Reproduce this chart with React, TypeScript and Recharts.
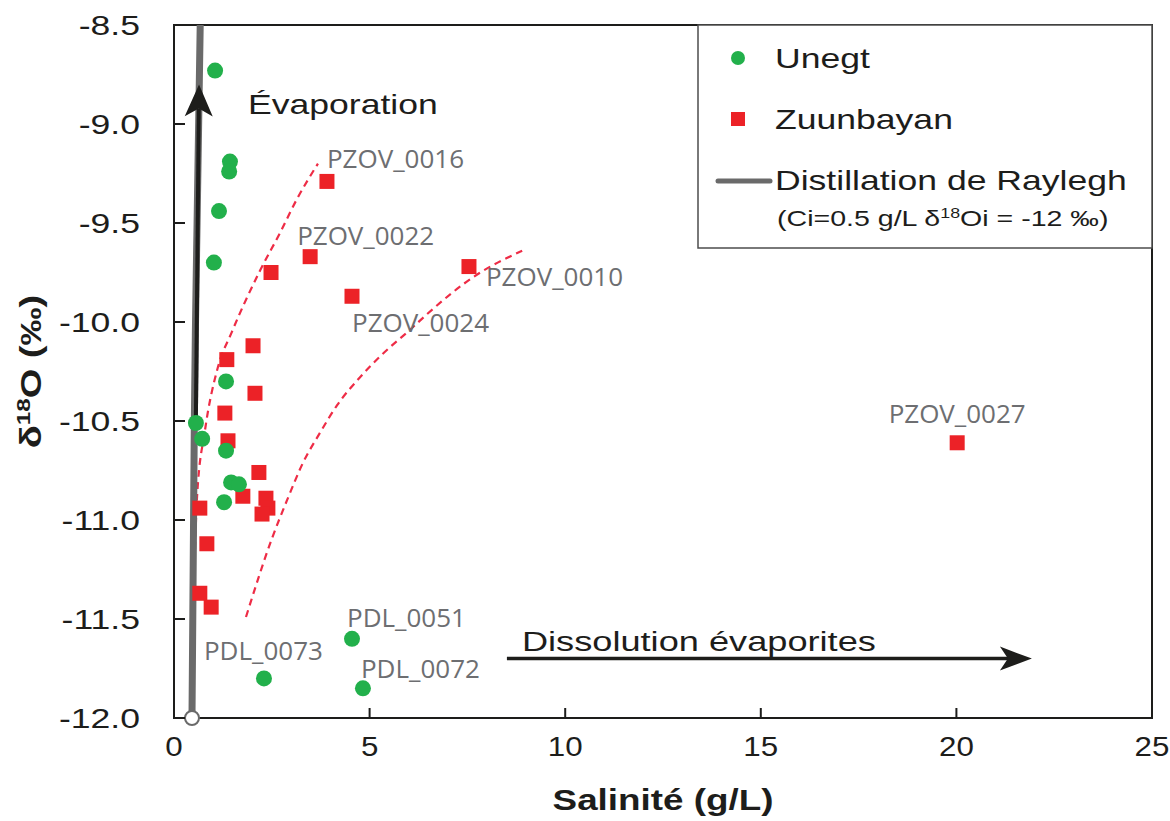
import { ComposedChart, Scatter, Line, XAxis, YAxis, ReferenceLine, ReferenceArea } from 'recharts';

// Unegt (green circles)
const unegtSal = [1.05, 1.43, 1.41, 1.15, 1.02, 1.33, 0.56, 0.72, 1.33, 1.46, 1.66, 1.28, 2.3, 4.55, 4.83];
const unegtD18O = [-8.73, -9.19, -9.24, -9.44, -9.7, -10.3, -10.51, -10.59, -10.65, -10.81, -10.82, -10.91, -11.8, -11.6, -11.85];
const unegtIds = ['', '', '', '', '', '', '', '', '', '', '', '', 'PDL_0073', 'PDL_0051', 'PDL_0072'];

// Zuunbayan (red squares)
const zuunSal = [3.91, 3.48, 7.54, 4.55, 2.48, 2.02, 1.35, 2.07, 1.3, 1.38, 2.17, 1.76, 2.35, 2.4, 2.25, 0.66, 0.84, 0.66, 0.95, 20.02];
const zuunD18O = [-9.29, -9.67, -9.72, -9.87, -9.75, -10.12, -10.19, -10.36, -10.46, -10.6, -10.76, -10.88, -10.89, -10.94, -10.97, -10.94, -11.12, -11.37, -11.44, -10.61];
const zuunIds = ['PZOV_0016', 'PZOV_0022', 'PZOV_0010', 'PZOV_0024', '', '', '', '', '', '', '', '', '', '', '', '', '', '', '', 'PZOV_0027'];

// Rayleigh distillation (Ci = 0.5 g/L, d18Oi = -12)
const raySal = [0.46, 0.48, 0.5, 0.52, 0.55, 0.59, 0.63, 0.67];
const rayD18O = [-12, -11.5, -11, -10.5, -10, -9.5, -9, -8.5];

// dashed mixing envelopes
const curveASal = [0.49, 0.59, 0.79, 1.12, 1.48, 2.2, 2.71, 3.14, 3.68];
const curveAD18O = [-11.51, -10.88, -10.55, -10.23, -10.05, -9.74, -9.55, -9.38, -9.2];
const curveBSal = [1.84, 2.51, 2.89, 3.3, 3.73, 4.17, 4.75, 5.34, 6.03, 6.47, 7.75, 8.9];
const curveBD18O = [-11.49, -11.09, -10.9, -10.71, -10.56, -10.42, -10.28, -10.16, -10.04, -9.96, -9.76, -9.64];

// annotation arrows (data coords)
const evapFrom = [0.56, -10.48];
const evapTo = [0.64, -8.8];
const dissFrom = [8.51, -11.7];
const dissTo = [21.93, -11.7];

const xTicks = [0, 5, 10, 15, 20, 25];
const yTicks = [-12, -11.5, -11, -10.5, -10, -9.5, -9, -8.5];

const unegt = unegtSal.map((x, i) => ({ x, y: unegtD18O[i], id: unegtIds[i] }));
const zuun = zuunSal.map((x, i) => ({ x, y: zuunD18O[i], id: zuunIds[i] }));
const rayleigh = raySal.map((x, i) => ({ x, y: rayD18O[i] }));
const rayStart = [{ x: raySal[0], y: rayD18O[0] }];
const curveA = curveASal.map((x, i) => ({ x, y: curveAD18O[i] }));
const curveB = curveBSal.map((x, i) => ({ x, y: curveBD18O[i] }));

const GREEN = '#22b04b';
const RED = '#ec2227';
const GREY = '#6a6a6a';
const INK = '#1d1d1b';
const DASH = '#ee2c46';
const ARIAL = '"Liberation Sans", Arial, sans-serif';
const STRETCH = 1.27;

// label placement relative to the point (dx, dy, anchor)
const LABEL_POS: Record<string, [number, number, 'start' | 'middle']> = {
  PZOV_0016: [0, -23, 'start'],
  PZOV_0022: [-13, -21, 'start'],
  PZOV_0010: [17, 10, 'start'],
  PZOV_0024: [0, 26, 'start'],
  PZOV_0027: [0, -29, 'middle'],
  PDL_0051: [-5, -21, 'start'],
  PDL_0073: [-60, -28, 'start'],
  PDL_0072: [-2, -20, 'start'],
};

const pointLabel = (id: string, cx: number, cy: number) => {
  const pos = LABEL_POS[id];
  if (!id || !pos) return null;
  return (
    <text x={cx + pos[0]} y={cy + pos[1]} dy="0.36em" textAnchor={pos[2]} fontSize={26}
      fontFamily='"Open Sans", "Noto Sans", sans-serif' fill="#6d6e71">
      {id}
    </text>
  );
};

const Dot = (p: any) => (
  <g>
    <circle cx={p.cx} cy={p.cy} r={8} fill={GREEN} />
    {pointLabel(p.payload?.id, p.cx, p.cy)}
  </g>
);

const Square = (p: any) => (
  <g>
    <rect x={p.cx - 7.5} y={p.cy - 7.5} width={15} height={15} fill={RED} />
    {pointLabel(p.payload?.id, p.cx, p.cy)}
  </g>
);

const Hollow = (p: any) => <circle cx={p.cx} cy={p.cy} r={7} fill="#fff" stroke={GREY} strokeWidth={2} />;

const YTick = (p: any) => {
  const { x, y, payload } = p;
  return (
    <g>
      <line x1={x + 34} x2={x + 45} y1={y} y2={y} stroke={INK} strokeWidth={2} />
      <text transform={`translate(${x},${y}) scale(${STRETCH},1)`} dy="0.36em" textAnchor="end"
        fontSize={28} fontFamily={ARIAL} fill={INK}>
        {Number(payload.value).toFixed(1)}
      </text>
    </g>
  );
};

const XTick = (p: any) => {
  const { x, y, payload } = p;
  return (
    <g>
      <line x1={x} x2={x} y1={y - 18} y2={y - 28} stroke={INK} strokeWidth={2} />
      <text transform={`translate(${x},${y}) scale(1.12,1)`} dy="0.72em" textAnchor="middle"
        fontSize={28} fontFamily={ARIAL} fill={INK}>
        {payload.value}
      </text>
    </g>
  );
};

const YTitle = (p: any) => {
  const vb = p.viewBox || {};
  const cy = vb.height ? vb.y + vb.height / 2 : 371;
  return (
    <text transform={`translate(30,${cy}) rotate(-90) scale(${STRETCH},1)`} textAnchor="middle" dy="0.36em"
      fontSize={30} fontWeight="bold" fontFamily={ARIAL} fill={INK}>
      δ<tspan fontSize={19} dy={-11}>18</tspan><tspan dy={11}>O (‰)</tspan>
    </text>
  );
};

const XTitle = (p: any) => {
  const vb = p.viewBox || {};
  const cx = vb.width ? vb.x + vb.width / 2 : 663;
  return (
    <text transform={`translate(${cx},800) scale(${STRETCH},1)`} textAnchor="middle" dy="0.36em"
      fontSize={29} fontWeight="bold" fontFamily={ARIAL} fill={INK}>
      Salinité (g/L)
    </text>
  );
};

const arrowHead = (x1: number, y1: number, x2: number, y2: number, len: number, half: number) => {
  const a = Math.atan2(y2 - y1, x2 - x1);
  const c = Math.cos(a), s = Math.sin(a);
  const bx = x2 - len * c, by = y2 - len * s;
  const nx = x2 - len * 0.75 * c, ny = y2 - len * 0.75 * s;
  return `${x2},${y2} ${bx - half * s},${by + half * c} ${nx},${ny} ${bx + half * s},${by - half * c}`;
};

const EvapArrow = (p: any) => {
  const { x1, y1, x2, y2 } = p;
  const a = Math.atan2(y2 - y1, x2 - x1);
  return (
    <g>
      <line x1={x1} y1={y1} x2={x2 - 24 * Math.cos(a)} y2={y2 - 24 * Math.sin(a)} stroke={INK} strokeWidth={4} />
      <polygon points={arrowHead(x1, y1, x2, y2, 32, 14)} fill={INK} />
      <text transform={`translate(${x2 + 49},${y2 + 20}) scale(${STRETCH},1)`} dy="0.36em"
        fontSize={28} fontFamily={ARIAL} fill={INK}>
        Évaporation
      </text>
    </g>
  );
};

const DissArrow = (p: any) => {
  const { x1, y1, x2, y2 } = p;
  return (
    <g>
      <line x1={x1} y1={y1} x2={x2 - 20} y2={y2} stroke={INK} strokeWidth={3.5} />
      <polygon points={arrowHead(x1, y1, x2, y2, 32, 12)} fill={INK} />
      <text transform={`translate(${x1 + 15},${y1 - 18}) scale(${STRETCH},1)`} dy="0.36em"
        fontSize={28.5} fontFamily={ARIAL} fill={INK}>
        Dissolution évaporites
      </text>
    </g>
  );
};

function LegendBox() {
  const t = (x: number, y: number, size: number, content: any) => (
    <text transform={`translate(${x},${y}) scale(${STRETCH},1)`} dy="0.36em" fontSize={size}
      fontFamily={ARIAL} fill={INK}>
      {content}
    </text>
  );
  return (
    <svg width={1170} height={821} style={{ position: 'absolute', left: 0, top: 0, pointerEvents: 'none' }}>
      <rect x={698} y={25} width={454} height={223} fill="#fff" stroke="#4d4d4d" strokeWidth={1.5} />
      <circle cx={738} cy={58} r={7} fill={GREEN} />
      {t(775, 58, 28, 'Unegt')}
      <rect x={731} y={112} width={14} height={14} fill={RED} />
      {t(775, 119, 28, 'Zuunbayan')}
      <line x1={718} x2={770} y1={181} y2={181} stroke={GREY} strokeWidth={5} strokeLinecap="round" />
      {t(775, 180, 28, 'Distillation de Raylegh')}
      {t(777, 218, 22.5, <>(Ci=0.5 g/L δ<tspan fontSize={14} dy={-8}>18</tspan><tspan dy={8}>Oi = -12 ‰)</tspan></>)}
    </svg>
  );
}

export default function App() {
  return (
    <div style={{ position: 'absolute', left: 0, top: 0, width: 1170, height: 821, background: '#fff' }}>
      <ComposedChart width={1170} height={821} margin={{ top: 25, right: 18, left: 0, bottom: 0 }}>
        <XAxis type="number" dataKey="x" domain={[0, 25]} ticks={xTicks} height={103}
          tickSize={0} tickMargin={18} tickLine={false} tick={<XTick />}
          axisLine={{ stroke: INK, strokeWidth: 2 }} label={(p: any) => <XTitle {...p} />} />
        <YAxis type="number" dataKey="y" domain={[-12, -8.5]} ticks={yTicks} width={174}
          tickSize={0} tickMargin={34} tickLine={false} tick={<YTick />}
          axisLine={{ stroke: INK, strokeWidth: 2 }} label={(p: any) => <YTitle {...p} />} />
        <ReferenceArea x1={0} x2={25} y1={-12} y2={-8.5} fill="none" stroke={INK} strokeWidth={2} />
        <Line data={curveA} dataKey="y" type="monotone" stroke={DASH} strokeWidth={2.2} strokeDasharray="7 5"
          dot={false} isAnimationActive={false} />
        <Line data={curveB} dataKey="y" type="monotone" stroke={DASH} strokeWidth={2.2} strokeDasharray="7 5"
          dot={false} isAnimationActive={false} />
        <Line data={rayleigh} dataKey="y" type="monotone" stroke={GREY} strokeWidth={7} dot={false}
          isAnimationActive={false} />
        <ReferenceLine segment={[{ x: evapFrom[0], y: evapFrom[1] }, { x: evapTo[0], y: evapTo[1] }]}
          shape={(p: any) => <EvapArrow {...p} />} />
        <ReferenceLine segment={[{ x: dissFrom[0], y: dissFrom[1] }, { x: dissTo[0], y: dissTo[1] }]}
          shape={(p: any) => <DissArrow {...p} />} />
        <Scatter data={zuun} dataKey="y" shape={Square} isAnimationActive={false} />
        <Scatter data={unegt} dataKey="y" shape={Dot} isAnimationActive={false} />
        <Scatter data={rayStart} dataKey="y" shape={Hollow} isAnimationActive={false} />
      </ComposedChart>
      <LegendBox />
    </div>
  );
}
